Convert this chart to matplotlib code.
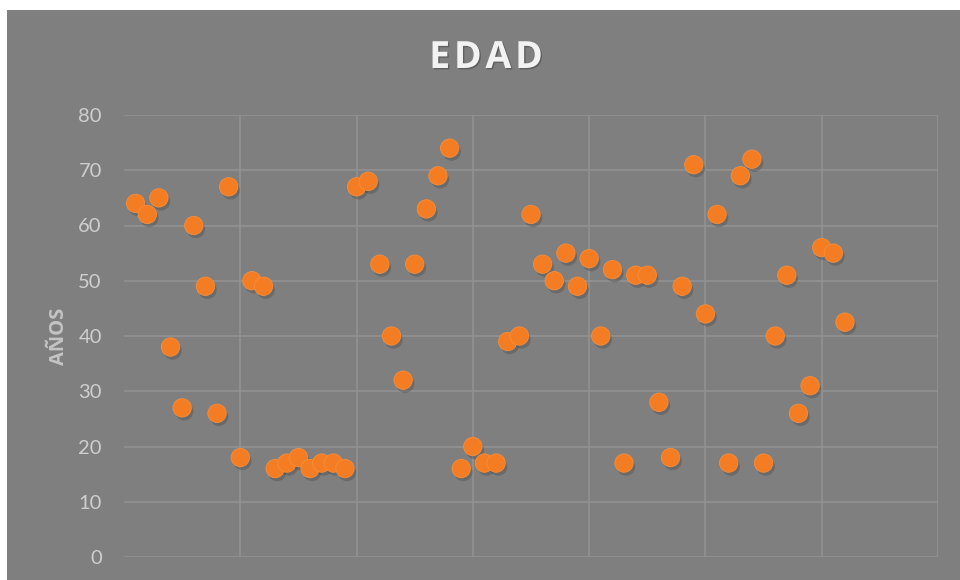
import matplotlib.pyplot as plt
import matplotlib.patheffects as pe
from matplotlib.patches import Rectangle

# data
ids = list(range(1, 63))
edad = [64, 62, 65, 38, 27, 60, 49, 26, 67, 18,
        50, 49, 16, 17, 18, 16, 17, 17, 16, 67,
        68, 53, 40, 32, 53, 63, 69, 74, 16, 20,
        17, 17, 39, 40, 62, 53, 50, 55, 49, 54,
        40, 52, 17, 51, 51, 28, 18, 49, 71, 44,
        62, 17, 69, 72, 17, 40, 51, 26, 31, 56,
        55, 42.5]
y_ticks = [0, 10, 20, 30, 40, 50, 60, 70, 80]
x_grid = [10, 20, 30, 40, 50, 60, 70]

plt.rcParams['font.family'] = ['Lato', 'DejaVu Sans']

bg = '#7f7f7f'
fig = plt.figure(figsize=(9.6, 5.8), dpi=100)
fig.patch.set_facecolor('white')
fig.patches.append(Rectangle((7 / 960, 0), 1, 1 - 10 / 580, transform=fig.transFigure,
                             facecolor=bg, edgecolor='none', zorder=-10))

ax = fig.add_axes([124 / 960, 1 - 557 / 580, (938 - 124) / 960, (557 - 115) / 580])
ax.set_facecolor(bg)
ax.set_xlim(0, 70)
ax.set_ylim(0, 80)
ax.set_xticks(x_grid)
ax.set_yticks(y_ticks)
ax.set_xticklabels([])
ax.tick_params(length=0, labelsize=14.5, labelcolor='#cfcfcf', pad=16)
ax.grid(True, color='#939393', linewidth=1.1)
ax.set_axisbelow(True)
for s in ax.spines.values():
    s.set_visible(False)

sc = ax.scatter(ids, edad, s=175, color='#f47d24', edgecolor='#f68e3c', linewidth=0.6, zorder=3)
sc.set_path_effects([pe.SimplePatchShadow(offset=(1.5, -2.5), shadow_rgbFace='#3a3a3a', alpha=0.3),
                     pe.Normal()])

ax.set_ylabel('AÑOS', fontsize=14.5, fontweight='bold', color='#c4c4c4', labelpad=7,
              family=['Open Sans', 'DejaVu Sans'])
fig.text(486 / 960, 1 - 58 / 580, 'E\u200aD\u200aA\u200aD', fontsize=27, fontweight='bold',
         color='#f2f2f2', family=['Open Sans', 'DejaVu Sans'], ha='center', va='center',
         path_effects=[pe.SimplePatchShadow(offset=(1, -1), shadow_rgbFace='black', alpha=0.25),
                       pe.Normal()])

fig.savefig('out.png', dpi=100, facecolor=fig.get_facecolor())
